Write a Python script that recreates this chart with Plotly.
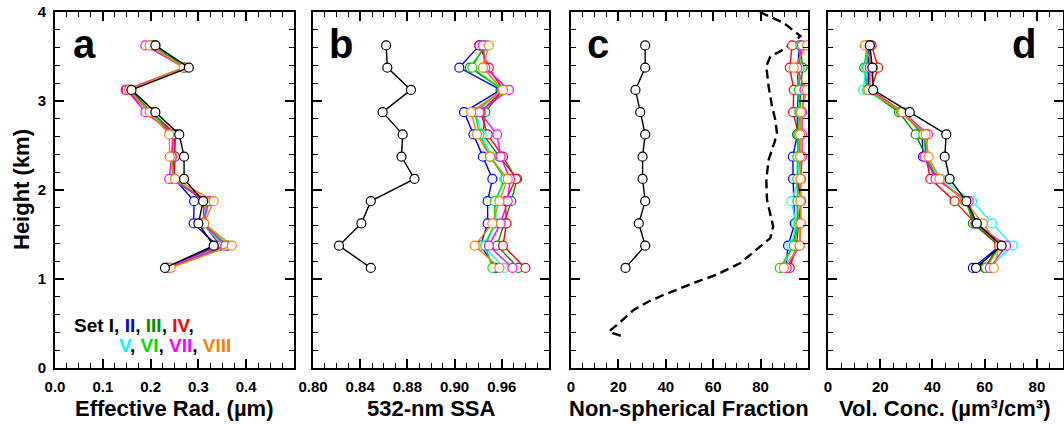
import plotly.graph_objects as go

# ---------------- data ----------------
heights = [3.625, 3.375, 3.125, 2.875, 2.625, 2.375, 2.125, 1.875, 1.625, 1.375, 1.125]
set_names = ["I", "II", "III", "IV", "V", "VI", "VII", "VIII"]
set_colors = ["#000000", "#0000FF", "#008C00", "#FF0000", "#00FFFF", "#00E000", "#FF00FF", "#FF8000"]

# Panel a: effective radius (um)
reff_I    = [0.210, 0.280, 0.160, 0.210, 0.260, 0.270, 0.270, 0.310, 0.300, 0.332, 0.230]
reff_II   = [0.210, 0.270, 0.158, 0.200, 0.250, 0.250, 0.250, 0.291, 0.290, 0.339, 0.232]
reff_III  = [0.208, 0.272, 0.158, 0.202, 0.253, 0.248, 0.247, 0.318, 0.312, 0.360, 0.240]
reff_IV   = [0.202, 0.270, 0.148, 0.200, 0.250, 0.251, 0.248, 0.312, 0.310, 0.346, 0.236]
reff_V    = [0.200, 0.270, 0.153, 0.198, 0.246, 0.246, 0.245, 0.318, 0.309, 0.352, 0.236]
reff_VI   = [0.205, 0.270, 0.155, 0.200, 0.246, 0.246, 0.246, 0.320, 0.311, 0.362, 0.240]
reff_VII  = [0.189, 0.270, 0.150, 0.189, 0.248, 0.244, 0.239, 0.322, 0.310, 0.356, 0.236]
reff_VIII = [0.198, 0.269, 0.155, 0.198, 0.239, 0.240, 0.251, 0.332, 0.312, 0.370, 0.242]

# Panel b: 532-nm single-scattering albedo
ssa_I    = [0.862, 0.863, 0.883, 0.859, 0.876, 0.875, 0.886, 0.849, 0.841, 0.822, 0.849]
ssa_II   = [0.941, 0.924, 0.959, 0.928, 0.936, 0.944, 0.952, 0.948, 0.948, 0.942, 0.955]
ssa_III  = [0.947, 0.933, 0.961, 0.946, 0.944, 0.958, 0.973, 0.968, 0.962, 0.956, 0.974]
ssa_IV   = [0.941, 0.949, 0.961, 0.942, 0.948, 0.961, 0.972, 0.963, 0.964, 0.961, 0.980]
ssa_V    = [0.946, 0.944, 0.960, 0.938, 0.943, 0.951, 0.962, 0.955, 0.955, 0.944, 0.962]
ssa_VI   = [0.945, 0.935, 0.960, 0.937, 0.941, 0.950, 0.963, 0.954, 0.954, 0.946, 0.952]
ssa_VII  = [0.944, 0.946, 0.966, 0.941, 0.956, 0.959, 0.967, 0.965, 0.959, 0.949, 0.969]
ssa_VIII = [0.949, 0.944, 0.961, 0.934, 0.939, 0.950, 0.965, 0.958, 0.952, 0.937, 0.958]

# Panel c: non-spherical fraction (%)
nsf_I    = [31.3, 31.3, 27.2, 29.2, 31.3, 30.2, 30.2, 31.3, 28.6, 31.3, 23.0]
nsf_II   = [96.5, 95.5, 96.0, 95.5, 95.5, 93.6, 93.7, 94.0, 94.4, 91.6, 90.6]
nsf_III  = [96.8, 97.7, 97.0, 96.5, 95.5, 95.8, 96.0, 95.5, 95.5, 93.5, 89.0]
nsf_IV   = [93.3, 92.3, 94.0, 93.7, 96.0, 96.5, 95.8, 97.0, 96.0, 95.2, 92.3]
nsf_V    = [97.0, 96.0, 96.5, 96.0, 96.0, 96.0, 96.0, 93.0, 95.0, 93.0, 89.5]
nsf_VI   = [96.8, 96.5, 96.2, 96.5, 96.0, 95.5, 95.5, 95.5, 96.0, 94.0, 88.1]
nsf_VII  = [97.5, 95.5, 98.5, 97.5, 97.5, 97.5, 97.0, 97.0, 96.8, 96.5, 91.0]
nsf_VIII = [99.6, 94.0, 99.6, 97.0, 96.7, 96.7, 96.8, 96.8, 97.0, 96.5, 89.8]

# Panel c: reference profile (dashed)
ref_frac   = [21.0, 16.0, 21.0, 26.3, 33.0, 39.0, 51.7, 61.6, 71.5, 78.5, 84.1, 85.3, 84.1, 82.7,
              82.4, 83.4, 85.8, 86.9, 86.2, 84.8, 83.4, 82.4, 84.1, 88.4, 93.0, 96.8, 89.8, 81.8, 78.0]
ref_height = [0.36, 0.41, 0.52, 0.65, 0.75, 0.82, 0.955, 1.05, 1.18, 1.33, 1.46, 1.59, 1.74, 1.89,
              2.12, 2.34, 2.53, 2.64, 2.79, 2.94, 3.16, 3.39, 3.50, 3.56, 3.64, 3.73, 3.876, 3.97, 4.02]

# Panel d: volume concentration (um3/cm3)
vol_I    = [16.0, 17.0, 17.3, 31.3, 45.3, 44.7, 46.6, 53.0, 57.0, 66.5, 56.7]
vol_II   = [15.5, 15.5, 15.5, 29.0, 36.0, 36.4, 42.0, 53.0, 56.0, 66.0, 55.5]
vol_III  = [15.0, 13.9, 15.0, 27.2, 33.6, 37.5, 42.0, 53.0, 55.5, 65.5, 60.0]
vol_IV   = [16.7, 19.2, 16.5, 28.5, 37.0, 37.5, 39.2, 48.5, 56.5, 65.5, 60.3]
vol_V    = [14.8, 14.5, 13.5, 29.6, 37.5, 38.0, 43.4, 55.2, 62.8, 70.7, 61.6]
vol_VI   = [15.0, 15.0, 15.0, 28.0, 36.5, 37.5, 42.0, 52.5, 56.5, 66.0, 60.5]
vol_VII  = [16.0, 16.0, 16.0, 28.5, 38.3, 37.0, 41.2, 53.9, 56.7, 68.2, 62.0]
vol_VIII = [14.1, 17.3, 15.5, 28.5, 37.4, 38.5, 42.7, 52.5, 59.3, 65.6, 63.5]

panel_a = [reff_I, reff_II, reff_III, reff_IV, reff_V, reff_VI, reff_VII, reff_VIII]
panel_b = [ssa_I, ssa_II, ssa_III, ssa_IV, ssa_V, ssa_VI, ssa_VII, ssa_VIII]
panel_c = [nsf_I, nsf_II, nsf_III, nsf_IV, nsf_V, nsf_VI, nsf_VII, nsf_VIII]
panel_d = [vol_I, vol_II, vol_III, vol_IV, vol_V, vol_VI, vol_VII, vol_VIII]

x_titles = ["Effective Rad. (µm)", "532-nm SSA", "Non-spherical Fraction", "Vol. Conc. (µm³/cm³)"]
panel_letters = ["a", "b", "c", "d"]

# ---------------- layout geometry (pixels) ----------------
W, H = 1064, 424
px_domains = [(55, 294), (313, 549), (571, 808), (828, 1063)]
y_top, y_bot = 12, 368

def fx(px):
    return px / W

def fy(py):
    return 1 - py / H

FONT = "Liberation Sans"

fig = go.Figure()

panels = [panel_a, panel_b, panel_c, panel_d]
draw_order = [1, 2, 3, 4, 5, 6, 7, 0]
for p, data in enumerate(panels):
    xa = "x" if p == 0 else f"x{p+1}"
    ya = "y" if p == 0 else f"y{p+1}"
    if p == 2:
        fig.add_trace(go.Scatter(x=ref_frac, y=ref_height, mode="lines",
                                 line=dict(color="black", width=2.4, dash="9px,5px"),
                                 xaxis=xa, yaxis=ya, showlegend=False, hoverinfo="skip"))
    for k in draw_order:
        fig.add_trace(go.Scatter(
            x=data[k], y=heights, mode="lines+markers", name="Set " + set_names[k],
            line=dict(color=set_colors[k], width=1.4),
            marker=dict(symbol="circle", size=9, color="white",
                        line=dict(color=set_colors[k], width=1.2)),
            xaxis=xa, yaxis=ya, showlegend=False))

tick_font = dict(family=FONT, size=15, color="black", weight="bold")
axis_common = dict(showline=True, linecolor="black", linewidth=2, mirror="allticks",
                   ticks="inside", ticklen=9, tickwidth=1.6, tickcolor="black",
                   showgrid=False, zeroline=False, tickfont=tick_font, automargin=False)

x_specs = [
    dict(range=[0, 0.5], tickvals=[0, 0.1, 0.2, 0.3, 0.4, 0.5],
         ticktext=["0.0", "0.1", "0.2", "0.3", "0.4", ""], minor_dtick=0.025),
    dict(range=[0.80, 1.00], tickvals=[0.80, 0.84, 0.88, 0.92, 0.96, 1.00],
         ticktext=["0.80", "0.84", "0.88", "0.90", "0.96", ""], minor_dtick=0.01),
    dict(range=[0, 100], tickvals=[0, 20, 40, 60, 80, 100],
         ticktext=["0", "20", "40", "60", "80", ""], minor_dtick=5),
    dict(range=[0, 90], tickvals=[0, 20, 40, 60, 80],
         ticktext=["0", "20", "40", "60", "80"], minor_dtick=5),
]

layout = dict(width=W, height=H, margin=dict(l=0, r=0, t=0, b=0, pad=0, autoexpand=False),
              paper_bgcolor="white", plot_bgcolor="white", showlegend=False)

for p in range(4):
    xs = x_specs[p]
    xkey = "xaxis" if p == 0 else f"xaxis{p+1}"
    ykey = "yaxis" if p == 0 else f"yaxis{p+1}"
    yname = "y" if p == 0 else f"y{p+1}"
    xname = "x" if p == 0 else f"x{p+1}"
    layout[xkey] = dict(axis_common, domain=[fx(px_domains[p][0]), fx(px_domains[p][1])],
                        range=xs["range"], tickmode="array", tickvals=xs["tickvals"],
                        ticktext=xs["ticktext"], anchor=yname, ticklabelstandoff=4,
                        minor=dict(ticks="inside", dtick=xs["minor_dtick"], tick0=0,
                                   ticklen=5, tickwidth=1.4, tickcolor="black"))
    layout[ykey] = dict(axis_common, domain=[fy(y_bot), fy(y_top)], range=[0, 4],
                        tickmode="array", tickvals=[0, 1, 2, 3, 4],
                        showticklabels=(p == 0), anchor=xname, ticklabelstandoff=4,
                        minor=dict(ticks="inside", dtick=0.2, tick0=0,
                                   ticklen=5, tickwidth=1.4, tickcolor="black"))

annotations = []
title_centers = [174, 431, 689, 945]
for p in range(4):
    annotations.append(dict(text=x_titles[p], x=fx(title_centers[p]), y=fy(408),
                            xref="paper", yref="paper", showarrow=False,
                            xanchor="center", yanchor="middle",
                            font=dict(family=FONT, size=22, color="black", weight="bold")))

letter_x = [84, 341, 598, 1024]
for p in range(4):
    annotations.append(dict(text=panel_letters[p], x=fx(letter_x[p]), y=fy(44),
                            xref="paper", yref="paper", showarrow=False,
                            xanchor="center", yanchor="middle",
                            font=dict(family=FONT, size=40, color="black", weight="bold")))

annotations.append(dict(text="Height (km)", x=fx(21), y=fy(190), xref="paper", yref="paper",
                        showarrow=False, textangle=-90, xanchor="center", yanchor="middle",
                        font=dict(family=FONT, size=22, color="black", weight="bold")))

def span(txt, col):
    return f"<span style='color:{col}'>{txt}</span>"

line1 = ("Set I, " + span("II", set_colors[1]) + ", " + span("III", set_colors[2]) + ", "
         + span("IV", set_colors[3]) + ",")
line2 = (span("V", set_colors[4]) + ", " + span("VI", set_colors[5]) + ", "
         + span("VII", set_colors[6]) + ", " + span("VIII", set_colors[7]))
legend_font = dict(family=FONT, size=19, color="black", weight="bold")
annotations.append(dict(text=line1, x=fx(72), y=fy(325), xref="paper", yref="paper",
                        showarrow=False, xanchor="left", yanchor="middle", font=legend_font))
annotations.append(dict(text=line2, x=fx(117), y=fy(345), xref="paper", yref="paper",
                        showarrow=False, xanchor="left", yanchor="middle", font=legend_font))

layout["annotations"] = annotations
fig.update_layout(**layout)

fig.write_html("out.html", config={"displayModeBar": False},
               post_script="document.body.style.margin='0px';document.body.style.padding='0px';")
